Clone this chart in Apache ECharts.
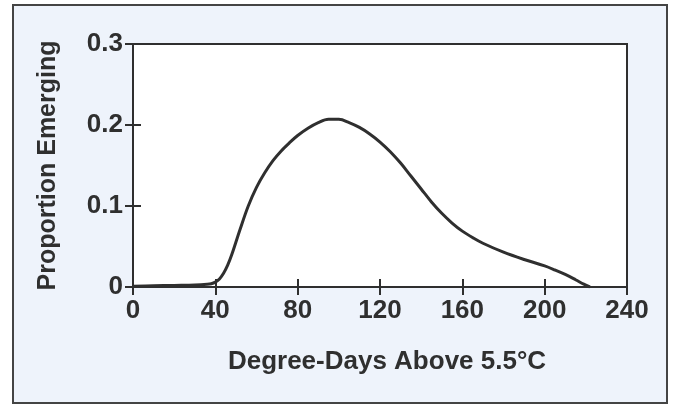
<!DOCTYPE html>
<html>
<head>
<meta charset="utf-8">
<script src="https://cdn.jsdelivr.net/npm/echarts@6/dist/echarts.min.js"></script>
<style>
html,body{margin:0;padding:0;background:#ffffff;}
#chart{width:675px;height:407px;}
</style>
</head>
<body>
<div id="chart"></div>
<script>
const degreeDays = [0, 10, 20, 30, 36, 38, 40, 42, 44, 46, 48, 52, 56, 60, 64, 68, 72, 76, 80, 85, 90, 95, 100, 105, 110, 115, 120, 125, 130, 135, 140, 145, 150, 155, 160, 165, 170, 180, 190, 200, 205, 210, 215, 219, 222];
const proportion = [0.001, 0.0015, 0.002, 0.0025, 0.0033, 0.004, 0.006, 0.010, 0.017, 0.027, 0.040, 0.071, 0.100, 0.123, 0.141, 0.156, 0.168, 0.178, 0.187, 0.196, 0.203, 0.207, 0.207, 0.203, 0.197, 0.189, 0.179, 0.167, 0.153, 0.137, 0.121, 0.105, 0.091, 0.079, 0.069, 0.061, 0.054, 0.043, 0.034, 0.026, 0.021, 0.0155, 0.009, 0.0035, 0];
const xTicks = [0, 40, 80, 120, 160, 200, 240];
const yTicks = [0, 0.1, 0.2, 0.3];
const xTitle = 'Degree-Days Above 5.5°C';
const yTitle = 'Proportion Emerging';

const ink = '#2f2f2f';
const fontFam = '"Liberation Sans", Arial, sans-serif';
const chart = echarts.init(document.getElementById('chart'), null, {renderer: 'canvas'});
const pts = degreeDays.map((d, i) => [d, proportion[i]]);

const baseX = {
  type: 'value', min: xTicks[0], max: xTicks[xTicks.length - 1], interval: 40,
  axisLine: {show: false}, splitLine: {show: false},
  axisTick: {inside: true, length: 8, lineStyle: {color: ink, width: 2}}
};
const baseY = {
  type: 'value', min: yTicks[0], max: yTicks[yTicks.length - 1], interval: 0.1,
  axisLine: {show: false}, splitLine: {show: false},
  axisTick: {inside: true, length: 8, lineStyle: {color: ink, width: 2}}
};

chart.setOption({
  backgroundColor: '#ffffff',
  animation: false,
  graphic: [{
    type: 'rect', z: -10, silent: true,
    shape: {x: 13, y: 5, width: 654, height: 398},
    style: {fill: '#eef3fb', stroke: '#444444', lineWidth: 2}
  }],
  grid: {left: 133, top: 44, width: 494, height: 243, show: true, backgroundColor: '#ffffff', borderColor: ink, borderWidth: 2},
  xAxis: [
    Object.assign({}, baseX, {
      position: 'bottom',
      name: xTitle, nameLocation: 'middle', nameGap: 62,
      nameTextStyle: {fontFamily: fontFam, fontWeight: 'bold', fontSize: 26, color: ink, padding: [0, 0, 0, 14]},
      axisLabel: {margin: 11, fontFamily: fontFam, fontWeight: 'bold', fontSize: 26, color: ink,
        formatter: v => String(v)}
    }),
    Object.assign({}, baseX, {position: 'top', axisLabel: {show: false}})
  ],
  yAxis: [
    Object.assign({}, baseY, {
      position: 'left',
      name: yTitle, nameLocation: 'middle', nameGap: 72,
      nameTextStyle: {fontFamily: fontFam, fontWeight: 'bold', fontSize: 25, color: ink},
      axisLabel: {margin: 10, fontFamily: fontFam, fontWeight: 'bold', fontSize: 26, color: ink,
        formatter: v => v === 0 ? '0' : v.toFixed(1)}
    }),
    Object.assign({}, baseY, {position: 'right', axisLabel: {show: false}})
  ],
  series: [{
    type: 'line', xAxisIndex: 0, yAxisIndex: 0,
    data: pts, smooth: 0.35, showSymbol: false,
    lineStyle: {color: ink, width: 3}
  }]
});
</script>
</body>
</html>
